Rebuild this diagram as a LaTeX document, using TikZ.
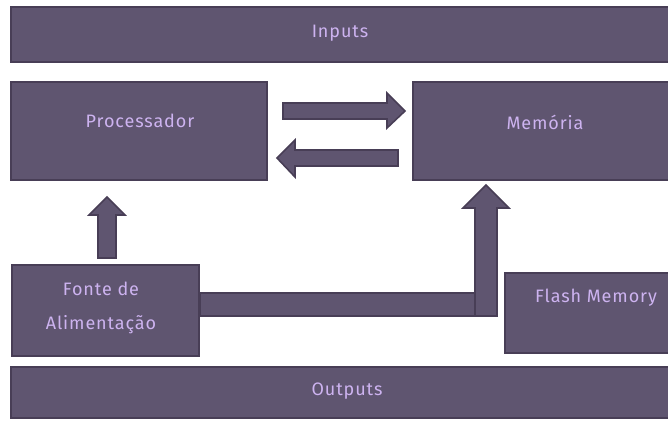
\documentclass[tikz,border=0pt]{standalone}
\usepackage{fontspec}
\setmainfont{Fira Sans}[LetterSpace=5]
\usetikzlibrary{fit}
\definecolor{boxfill}{HTML}{5F5570}
\definecolor{boxline}{HTML}{483E56}
\definecolor{boxtext}{HTML}{CDB3F0}
\tikzset{
  box/.style={draw=boxline, fill=boxfill, line width=1.5pt, inner sep=0pt, rectangle},
  lbl/.style={text=boxtext, font=\fontsize{13.5pt}{16pt}\selectfont, inner sep=0pt, align=center},
  blk/.style={draw=boxline, fill=boxfill, line width=1.2pt, line join=miter}
}
\begin{document}
\begin{tikzpicture}[x=0.75pt,y=-0.75pt]
\useasboundingbox (0,0) rectangle (668,421);
% boxes
\node[box, fit={(11,7) (675,62)}] (inputs) {};
\node[box, fit={(11,82) (267,180)}] (proc) {};
\node[box, fit={(413,82) (675,180)}] (mem) {};
\node[box, fit={(12,265) (199,356)}] (fonte) {};
\node[box, fit={(505,273) (675,353)}] (flash) {};
\node[box, fit={(11,367) (675,418)}] (outputs) {};
% labels
\node[lbl] (tin) at (340,33) {Inputs};
\node[lbl] (tproc) at (140,121) {Processador};
\node[lbl] (tmem) at (545,122) {Memória};
\node[lbl] (tf1) at (101,289) {Fonte de};
\node[lbl] (tf2) at (101,325) {Alimentação};
\node[lbl] (tflash) at (596,298) {Flash Memory};
\node[lbl] (tout) at (347,391) {Outputs};
% block arrows
% processor -> memory
\draw[blk] (283,103) -- (387,103) -- (387,93) -- (405,111) -- (387,128) -- (387,119) -- (283,119) -- cycle;
% memory -> processor
\draw[blk] (398,150) -- (295,150) -- (295,140) -- (277,158) -- (295,177) -- (295,166) -- (398,166) -- cycle;
% fonte -> processor
\draw[blk] (98,258) -- (98,215) -- (89,215) -- (107,197) -- (125,215) -- (116,215) -- (116,258) -- cycle;
% fonte -> memory
\draw[blk] (fonte.east |- 0,293) rectangle (497,316);
\draw[blk] (475,316) -- (475,208) -- (463,208) -- (486,185) -- (509,208) -- (497,208) -- (497,316) -- cycle;
\end{tikzpicture}
\end{document}
